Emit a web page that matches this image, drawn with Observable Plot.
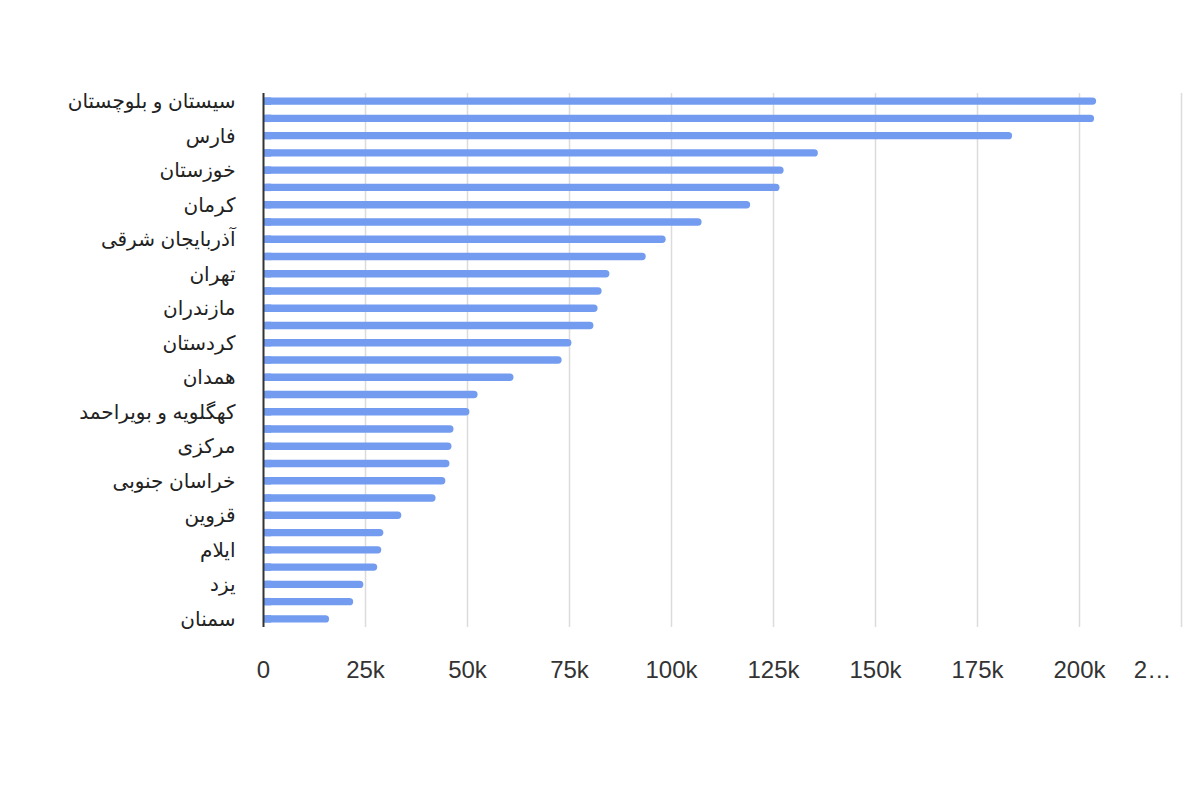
<!DOCTYPE html>
<html>
<head>
<meta charset="utf-8">
<script src="https://cdn.jsdelivr.net/npm/d3@7"></script>
<script src="https://cdn.jsdelivr.net/npm/@observablehq/plot@0.6"></script>
<style>
  html, body { margin: 0; padding: 0; background: #fff; }
  #chart { width: 1200px; height: 800px; }
</style>
</head>
<body>
<div id="chart"></div>
<script>
const provinces = [
  "سیستان و بلوچستان", "خراسان رضوی", "فارس", "اصفهان", "خوزستان", "هرمزگان",
  "کرمان", "آذربایجان غربی", "آذربایجان شرقی", "لرستان", "تهران", "کرمانشاه",
  "مازندران", "گلستان", "کردستان", "گیلان", "همدان", "اردبیل",
  "کهگلویه و بویراحمد", "بوشهر", "مرکزی", "زنجان", "خراسان جنوبی", "خراسان شمالی",
  "قزوین", "چهارمحال و بختیاری", "ایلام", "قم", "یزد", "البرز", "سمنان"
];
const values = [
  204200, 203700, 183600, 136000, 127600, 126600,
  119400, 107500, 98700, 93800, 84900, 83000,
  82000, 81000, 75600, 73200, 61400, 52600,
  50600, 46700, 46200, 45700, 44700, 42300,
  33900, 29500, 29000, 28000, 24600, 22100, 16200
];
const shownLabels = [
  "سیستان و بلوچستان", "فارس", "خوزستان", "کرمان", "آذربایجان شرقی", "تهران",
  "مازندران", "کردستان", "همدان", "کهگلویه و بویراحمد", "مرکزی", "خراسان جنوبی",
  "قزوین", "ایلام", "یزد", "سمنان"
];
const xTicks = [0, 25000, 50000, 75000, 100000, 125000, 150000, 175000, 200000, 225000];
const xTickLabels = ["0", "25k", "50k", "75k", "100k", "125k", "150k", "175k", "200k", "2…"];

const data = provinces.map((p, i) => ({province: p, value: values[i]}));
const xLabelData = xTicks.map((t, i) => ({tick: t, label: xTickLabels[i]}));
const font = "Arial, 'Liberation Sans', 'DejaVu Sans', sans-serif";

const chart = Plot.plot({
  width: 1200,
  height: 800,
  marginLeft: 263,
  marginRight: 19,
  marginTop: 93,
  marginBottom: 173,
  style: {fontFamily: font, fontSize: "24px", color: "#333", background: "#fff"},
  x: {
    domain: [0, 225000],
    axis: null
  },
  y: {
    domain: provinces,
    paddingInner: 0.57,
    paddingOuter: 0.255,
    align: 0.5,
    round: false,
    axis: null
  },
  marks: [
    Plot.ruleX(xTicks.slice(1), {stroke: "#dcdcdc", strokeWidth: 1.5}),
    Plot.barX(data, {y: "province", x1: 0, x2: "value", fill: "#739cf0", rx: 3.7}),
    Plot.barX(data, {y: "province", x1: 0, x2: d => Math.min(d.value, 2000), fill: "#739cf0"}),
    Plot.ruleX([0], {stroke: "#333", strokeWidth: 2}),
    Plot.text(shownLabels, {
      x: () => 0, y: d => d, text: d => d,
      dx: -28, textAnchor: "end", fontSize: 20, fill: "#222", fontFamily: font
    }),
    Plot.text(xLabelData.slice(0, -1), {
      x: "tick", text: "label", frameAnchor: "bottom", dy: 50,
      fontSize: 24, fill: "#333", fontFamily: font
    }),
    Plot.text(xLabelData.slice(-1), {
      x: "tick", text: "label", frameAnchor: "bottom", dy: 50, dx: -29,
      fontSize: 24, fill: "#333", fontFamily: font
    })
  ]
});
document.getElementById("chart").appendChild(chart);
</script>
</body>
</html>
